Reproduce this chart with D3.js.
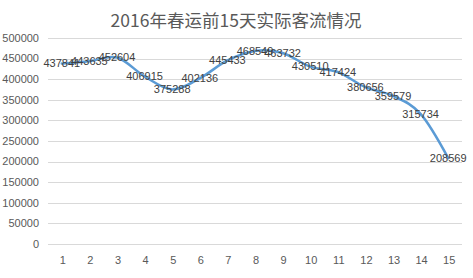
<!DOCTYPE html>
<html>
<head>
<meta charset="utf-8">
<script src="https://cdn.jsdelivr.net/npm/d3@7"></script>
<style>
  body { margin: 0; background: #fff; }
  .grid line { stroke: #d9d9d9; stroke-width: 1; }
  .tick-label { font-family: "Liberation Sans", Arial, sans-serif; font-size: 11px; fill: #595959; }
  .data-label { font-family: "Liberation Sans", Arial, sans-serif; font-size: 11px; fill: #404040; }
</style>
</head>
<body>
<div id="chart"></div>
<script>
var days = ["1","2","3","4","5","6","7","8","9","10","11","12","13","14","15"];
var passengers = [437841, 443635, 452604, 406915, 375288, 402136, 445433, 468549, 463732, 430510, 417424, 380656, 359579, 315734, 208569];
var yTicks = [0, 50000, 100000, 150000, 200000, 250000, 300000, 350000, 400000, 450000, 500000];
var title = "2016年春运前15天实际客流情况";

var margin = { top: 38, right: 11, bottom: 34, left: 48 },
    width = 473 - margin.left - margin.right,
    height = 278 - margin.top - margin.bottom;

var svg = d3.select("#chart").append("svg")
    .attr("width", 473)
    .attr("height", 278);

svg.append("text")
    .attr("x", 236)
    .attr("y", 27)
    .attr("text-anchor", "middle")
    .style("font-family", "'Noto Sans CJK SC', sans-serif")
    .style("font-size", "17.5px")
    .style("fill", "#595959")
    .text(title);

var g = svg.append("g")
    .attr("transform", "translate(" + margin.left + "," + margin.top + ")");

var x = d3.scaleBand()
    .domain(days)
    .range([0, width]);

var y = d3.scaleLinear()
    .domain([0, 500000])
    .range([height, 0]);

// gridlines
g.append("g")
    .attr("class", "grid")
    .selectAll("line")
    .data(yTicks)
    .enter()
    .append("line")
    .attr("x1", 0)
    .attr("x2", width)
    .attr("y1", function(d) { return Math.round(y(d)) + 0.5; })
    .attr("y2", function(d) { return Math.round(y(d)) + 0.5; });

// y labels
g.selectAll(".ylab")
    .data(yTicks)
    .enter()
    .append("text")
    .attr("class", "tick-label")
    .attr("x", -9)
    .attr("y", function(d) { return y(d); })
    .attr("dy", "0.35em")
    .attr("text-anchor", "end")
    .text(function(d) { return d; });

// x labels
g.selectAll(".xlab")
    .data(days)
    .enter()
    .append("text")
    .attr("class", "tick-label")
    .attr("x", function(d) { return x(d) + x.bandwidth() / 2 + 1; })
    .attr("y", height + 16)
    .attr("dy", "0.35em")
    .attr("text-anchor", "middle")
    .text(function(d) { return d; });

var line = d3.line()
    .x(function(d, i) { return x(days[i]) + x.bandwidth() / 2; })
    .y(function(d) { return y(d); })
    .curve(d3.curveCardinal.tension(0));

g.append("path")
    .datum(passengers)
    .attr("fill", "none")
    .attr("stroke", "#5b9bd5")
    .attr("stroke-width", 2.5)
    .attr("stroke-linecap", "round")
    .attr("d", line);

g.selectAll(".data-label")
    .data(passengers)
    .enter()
    .append("text")
    .attr("class", "data-label")
    .attr("x", function(d, i) { return x(days[i]) + x.bandwidth() / 2; })
    .attr("y", function(d) { return y(d); })
    .attr("dy", "0.35em")
    .attr("text-anchor", "middle")
    .text(function(d) { return d; });
</script>
</body>
</html>
